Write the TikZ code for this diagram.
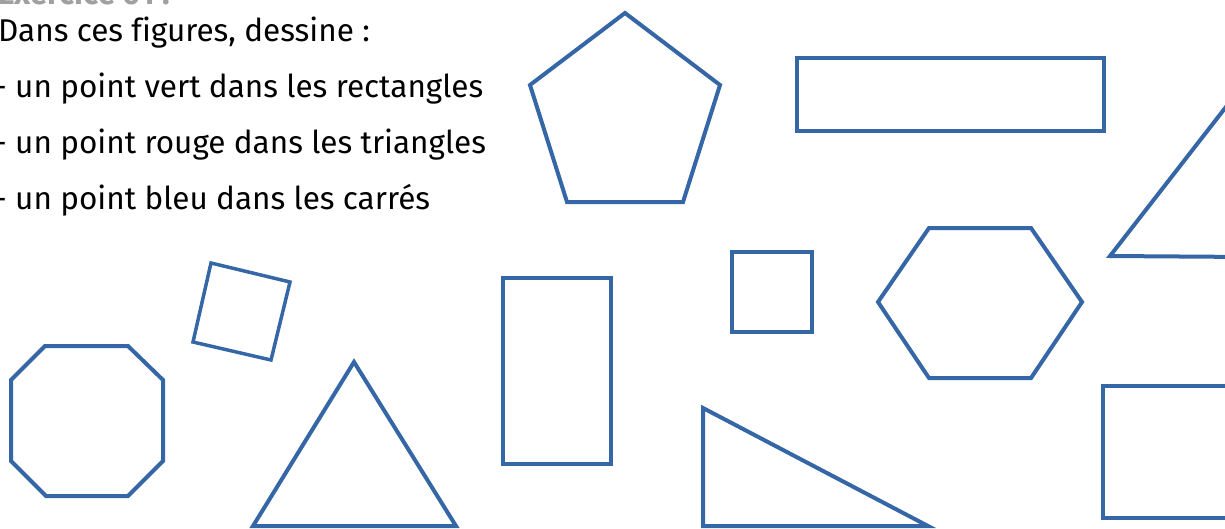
\documentclass[tikz,border=0pt]{standalone}
\usepackage{fontspec}
\setmainfont[Ligatures={NoCommon}]{Fira Sans}
\definecolor{shapeblue}{RGB}{53,103,166}
\definecolor{titlegrey}{RGB}{160,160,160}
\tikzset{
  outline/.style={draw=shapeblue, line width=4pt, line join=miter},
  txt/.style={anchor=base west, inner sep=0pt, font=\fontsize{31.5}{36}\selectfont},
}
\begin{document}
\begin{tikzpicture}[x=1pt,y=-1pt]
\useasboundingbox (0,0) rectangle (1225,528);
% text
\node[txt, text=titlegrey, font=\bfseries\fontsize{31.5}{36}\selectfont] (title) at (-2,4) {Exercice 01 :};
\node[txt] (l1) at (-2,41) {Dans ces figures, dessine :};
\node[txt] (l2) at (-6,97) {- un point vert dans les rectangles};
\node[txt] (l3) at (-6,153) {- un point rouge dans les triangles};
\node[txt] (l4) at (-6,209) {- un point bleu dans les carrés};
% pentagon
\draw[outline] (625,13) -- (720,85) -- (683,202) -- (567,202) -- (530,85) -- cycle;
% wide rectangle
\draw[outline] (797,58) rectangle (1104,131);
% top-right triangle
\draw[outline] (1250,76) -- (1110,256) -- (1250,257);
% octagon
\draw[outline] (45,346) -- (128,346) -- (163,380) -- (163,461) -- (128,496) -- (46,496) -- (11,461) -- (11,380) -- cycle;
% rotated square
\draw[outline, line width=3.5pt] (211,263) -- (290,282) -- (271,360) -- (193,342) -- cycle;
% isosceles triangle
\draw[outline] (354,362) -- (456,526) -- (253,526) -- cycle;
% tall rectangle
\draw[outline] (503,278) rectangle (611,464);
% small square
\draw[outline] (732,252) rectangle (812,332);
% hexagon
\draw[outline] (929,228) -- (1031,228) -- (1082,302) -- (1031,378) -- (929,378) -- (878,302) -- cycle;
% right triangle
\draw[outline] (703,408) -- (928,526) -- (703,526) -- cycle;
% bottom-right rectangle
\draw[outline] (1250,386) -- (1103,386) -- (1103,518) -- (1250,518);
\end{tikzpicture}
\end{document}
